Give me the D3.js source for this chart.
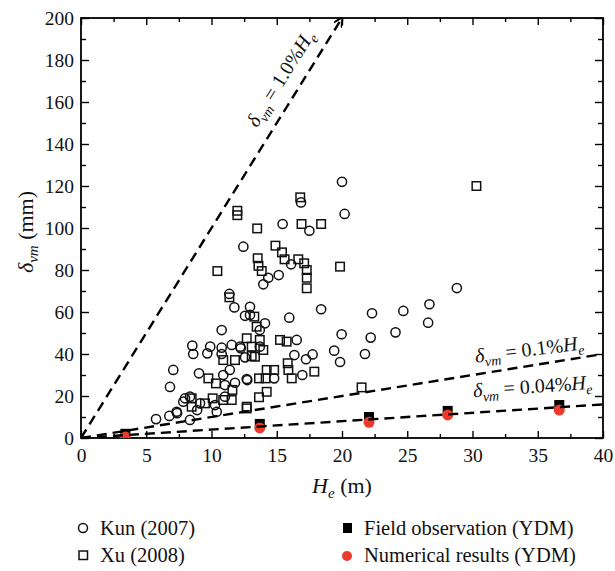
<!DOCTYPE html>
<html>
<head>
<meta charset="utf-8">
<script src="https://cdn.jsdelivr.net/npm/d3@7"></script>
<style>
  html, body { margin: 0; padding: 0; background: #fff; }
  svg { display: block; font-family: "Liberation Serif", "Times New Roman", serif; }
</style>
</head>
<body>
<svg id="chart" width="615" height="571"></svg>
<script>
// Kun (2007): excavation depth He (m) and max wall settlement δvm (mm)
const kunHe = [20.0, 20.2, 16.86, 15.45, 17.5, 12.44, 16.1, 14.35, 13.97, 15.15, 18.4, 15.96, 12.95, 19.97,
  11.37, 11.75, 12.57, 10.78, 8.53, 9.9, 10.78, 11.55, 12.2, 8.6, 9.68, 10.78, 12.24,
  7.07, 9.04, 11.4, 10.9, 11.03, 11.8, 12.74, 6.82, 7.97, 8.35, 7.84, 9.12, 8.9, 10.27, 10.4, 11.03,
  7.33, 6.77, 5.75, 8.35, 7.36, 14.1, 13.7, 12.95, 13.7, 12.57, 16.53, 16.35, 17.24, 17.75, 16.96,
  19.4, 14.8, 12.7, 21.76, 22.2, 22.3, 24.1, 24.7, 26.6, 26.7, 28.8, 19.85];
const kunDv = [122, 106.7, 112.2, 101.9, 98.7, 91.1, 82.7, 76.3, 73.2, 77.6, 61.3, 57.3, 62.5, 49.4,
  68.6, 62.2, 58.2, 51.4, 44, 43.5, 43, 44.3, 43.5, 40, 40.3, 40, 42.7,
  32.4, 30.8, 32.4, 30, 25.2, 26.3, 27.6, 24.3, 18.9, 19.7, 17.3, 16.5, 13.3, 15.7, 12.5, 19.7,
  12.5, 10.5, 9, 8.6, 11.8, 54.6, 51.4, 58.6, 43.5, 38.4, 46.7, 39.5, 37.5, 39.8, 30,
  41.6, 28.4, 28.1, 40, 47.8, 59.4, 50.3, 60.5, 54.9, 63.7, 71.4, 36.2];

// Xu (2008)
const xuHe = [16.8, 11.98, 11.98, 16.9, 18.4, 13.5, 14.9, 15.4, 15.6, 16.65, 17.1, 17.3, 17.3, 17.3,
  13.54, 13.6, 13.85, 19.85, 10.45, 11.37, 30.3, 21.5, 12.7, 13.08, 10.9, 11.8, 13.08,
  9.76, 10.34, 11.6, 8.48, 8.48, 9.5, 10.09, 10.9, 11.55, 12.7,
  13.28, 13.46, 13.7, 13.97, 13.33, 15.25, 15.76, 15.84, 15.89, 16.15, 17.88, 14.23, 14.8,
  13.64, 14.15, 14.23, 13.64, 12.7];
const xuDv = [114.6, 108.2, 106.1, 101.9, 101.9, 99.8, 91.6, 88.4, 85.1, 85.1, 83.2, 80, 76.3, 71.3,
  85.6, 82, 79.5, 81.6, 79.5, 67, 120, 24.1, 47.5, 43.5, 37.1, 37.1, 39,
  28.4, 26, 22.9, 18.9, 14.9, 16.5, 18.9, 18.1, 18.1, 14.1,
  57.8, 53, 46.7, 41.9, 38.7, 46.7, 45.9, 35.6, 32.4, 28.4, 31.6, 32.4, 32.4,
  28.4, 28.4, 22, 19.4, 14.9];

// YDM: field observation and numerical results
const ydmHe = [3.4, 13.7, 22.07, 28.1, 36.65];
const fieldDv = [2, 6.7, 10, 12.9, 15.7];
const numDv = [0.5, 4.8, 7.5, 11, 13.3];

// Reference lines δvm = k · He, k in percent (He in m → δ in mm)
const refRatios = [1.0, 0.1, 0.04];

// Axis ticks
const xMajor = [0, 5, 10, 15, 20, 25, 30, 35, 40];
const xMinor = [2.5, 7.5, 12.5, 17.5, 22.5, 27.5, 32.5, 37.5];
const yMajor = [0, 20, 40, 60, 80, 100, 120, 140, 160, 180, 200];
const yMinor = [10, 30, 50, 70, 90, 110, 130, 150, 170, 190];

const svg = d3.select("#chart");
const L = 81, R = 603, T = 18, B = 438;
const x = d3.scaleLinear().domain([0, 40]).range([L, R]);
const y = d3.scaleLinear().domain([0, 200]).range([B, T]);

svg.append("defs").append("clipPath").attr("id", "plotClip")
  .append("rect").attr("x", L).attr("y", T - 4).attr("width", R - L).attr("height", B - T + 4);

svg.select("defs").append("marker")
  .attr("id", "arrow").attr("viewBox", "0 0 10 10").attr("refX", 9).attr("refY", 5)
  .attr("markerWidth", 4).attr("markerHeight", 4).attr("orient", "auto")
  .append("path").attr("d", "M0,0 L10,5 L0,10").attr("fill", "none")
  .attr("stroke", "#000").attr("stroke-width", 2);

// Axes with inward ticks on all four sides
function styleAxis(g) {
  g.select(".domain").remove();
  g.selectAll("line").attr("stroke", "#000").attr("stroke-width", 1.4);
  g.selectAll("text").attr("font-family", "Liberation Serif, serif").attr("font-size", 19.5).attr("fill", "#111");
}
svg.append("g").attr("transform", `translate(0,${B})`)
  .call(d3.axisBottom(x).tickValues(xMajor).tickSize(-7).tickPadding(10).tickFormat(d3.format("d"))).call(styleAxis);
svg.append("g").attr("transform", `translate(0,${B})`)
  .call(d3.axisBottom(x).tickValues(xMinor).tickSize(-4).tickFormat("")).call(styleAxis);
svg.append("g").attr("transform", `translate(0,${T})`)
  .call(d3.axisTop(x).tickValues(xMajor).tickSize(-7).tickFormat("")).call(styleAxis);
svg.append("g").attr("transform", `translate(0,${T})`)
  .call(d3.axisTop(x).tickValues(xMinor).tickSize(-4).tickFormat("")).call(styleAxis);
svg.append("g").attr("transform", `translate(${L},0)`)
  .call(d3.axisLeft(y).tickValues(yMajor).tickSize(-8).tickPadding(7).tickFormat(d3.format("d"))).call(styleAxis);
svg.append("g").attr("transform", `translate(${L},0)`)
  .call(d3.axisLeft(y).tickValues(yMinor).tickSize(-5).tickFormat("")).call(styleAxis);
svg.append("g").attr("transform", `translate(${R},0)`)
  .call(d3.axisRight(y).tickValues(yMajor).tickSize(-8).tickFormat("")).call(styleAxis);
svg.append("g").attr("transform", `translate(${R},0)`)
  .call(d3.axisRight(y).tickValues(yMinor).tickSize(-5).tickFormat("")).call(styleAxis);

// Frame
svg.append("rect").attr("x", L).attr("y", T).attr("width", R - L).attr("height", B - T)
  .attr("fill", "none").attr("stroke", "#000").attr("stroke-width", 1.8);

// Data markers
const plot = svg.append("g").attr("clip-path", "url(#plotClip)");
const sq = 8.5;

plot.selectAll("circle.kun").data(kunHe.map((h, i) => [h, kunDv[i]])).join("circle")
  .attr("class", "kun").attr("cx", d => x(d[0])).attr("cy", d => y(d[1])).attr("r", 4.6)
  .attr("fill", "none").attr("stroke", "#111").attr("stroke-width", 1.5);

plot.selectAll("rect.xu").data(xuHe.map((h, i) => [h, xuDv[i]])).join("rect")
  .attr("class", "xu").attr("x", d => x(d[0]) - sq / 2).attr("y", d => y(d[1]) - sq / 2)
  .attr("width", sq).attr("height", sq)
  .attr("fill", "none").attr("stroke", "#111").attr("stroke-width", 1.5);

plot.selectAll("rect.field").data(ydmHe.map((h, i) => [h, fieldDv[i]])).join("rect")
  .attr("class", "field").attr("x", d => x(d[0]) - 5).attr("y", d => y(d[1]) - 5)
  .attr("width", 10).attr("height", 10).attr("fill", "#000");

// Reference lines δvm = k%·He
const refG = svg.append("g").attr("clip-path", "url(#plotClip)");
refRatios.forEach(k => {
  const xEnd = Math.min(40, 200 / (10 * k));
  refG.append("line")
    .attr("x1", x(0)).attr("y1", y(0)).attr("x2", x(xEnd)).attr("y2", y(10 * k * xEnd))
    .attr("stroke", "#000").attr("stroke-width", 2.4).attr("stroke-dasharray", "10,6")
    .attr("marker-end", k === 1.0 ? "url(#arrow)" : null);
});

plot.selectAll("circle.num").data(ydmHe.map((h, i) => [h, numDv[i]])).join("circle")
  .attr("class", "num").attr("cx", d => x(d[0])).attr("cy", d => y(d[1])).attr("r", 5.5)
  .attr("fill", "#ee3a2c");

// Line annotations
function refLabel(txt, cx, cy, angle) {
  const t = svg.append("text").attr("transform", `translate(${cx},${cy}) rotate(${angle})`)
    .attr("text-anchor", "middle").attr("font-size", 20).attr("fill", "#111");
  t.append("tspan").attr("font-style", "italic").text("δ");
  t.append("tspan").attr("font-style", "italic").attr("font-size", 14).attr("dy", 5).text("vm");
  t.append("tspan").attr("dy", -5).text(" = " + txt);
  t.append("tspan").attr("font-style", "italic").text("H");
  t.append("tspan").attr("font-style", "italic").attr("font-size", 14).attr("dy", 5).text("e");
}
refLabel("1.0%", 286, 82, -58);
refLabel("0.1%", 530, 356, -7);
refLabel("0.04%", 533, 393, -4);

// Axis titles
const xt = svg.append("text").attr("x", 342).attr("y", 493).attr("text-anchor", "middle")
  .attr("font-size", 22).attr("fill", "#111");
xt.append("tspan").attr("font-style", "italic").text("H");
xt.append("tspan").attr("font-style", "italic").attr("font-size", 15).attr("dy", 5).text("e");
xt.append("tspan").attr("dy", -5).text(" (m)");

const yt = svg.append("text").attr("transform", "translate(33,232) rotate(-90)").attr("text-anchor", "middle")
  .attr("font-size", 22).attr("fill", "#111");
yt.append("tspan").attr("font-style", "italic").text("δ");
yt.append("tspan").attr("font-style", "italic").attr("font-size", 15).attr("dy", 5).text("vm");
yt.append("tspan").attr("dy", -5).text(" (mm)");

// Legend
const leg = svg.append("g").attr("font-size", 20.5).attr("fill", "#111");
leg.append("circle").attr("cx", 83).attr("cy", 528).attr("r", 4.5).attr("fill", "none").attr("stroke", "#111").attr("stroke-width", 1.5);
leg.append("text").attr("x", 100).attr("y", 534.5).text("Kun (2007)");
leg.append("rect").attr("x", 79).attr("y", 551).attr("width", 8.5).attr("height", 8.5).attr("fill", "none").attr("stroke", "#111").attr("stroke-width", 1.5);
leg.append("text").attr("x", 100).attr("y", 562).text("Xu (2008)");
leg.append("rect").attr("x", 343).attr("y", 523).attr("width", 9).attr("height", 10).attr("fill", "#000");
leg.append("text").attr("x", 364).attr("y", 534.5).text("Field observation (YDM)");
leg.append("circle").attr("cx", 347).attr("cy", 556).attr("r", 5).attr("fill", "#ee3a2c");
leg.append("text").attr("x", 364).attr("y", 562).text("Numerical results (YDM)");
</script>
</body>
</html>
